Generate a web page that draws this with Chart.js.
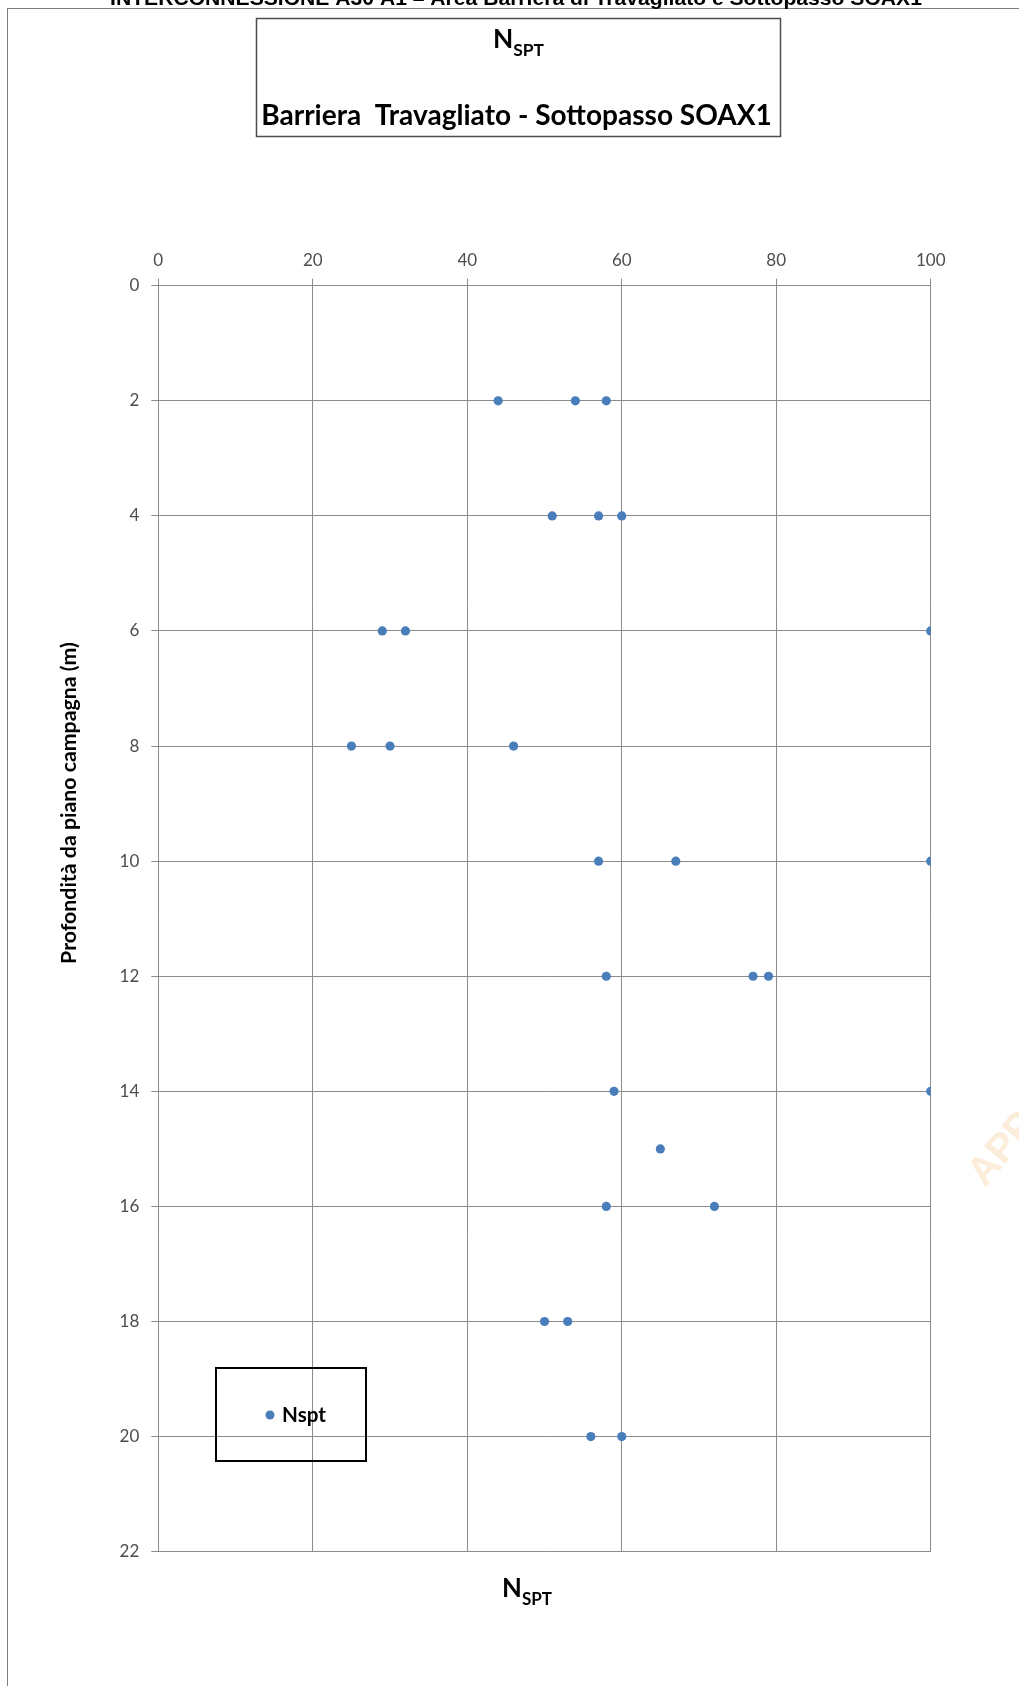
<!DOCTYPE html>
<html>
<head>
<meta charset="utf-8">
<script src="https://cdn.jsdelivr.net/npm/chart.js@4.4.0/dist/chart.umd.min.js"></script>
<style>
html,body{margin:0;padding:0;background:#ffffff;}
#wrap{width:1019px;height:1686px;position:relative;background:#ffffff;}
canvas{display:block;}
</style>
</head>
<body>
<div id="wrap"><canvas id="chart" width="1019" height="1686"></canvas></div>
<script>
// ---- data ----
const depths      = [2, 2, 2, 4, 4, 4, 6, 6, 6, 8, 8, 8, 10, 10, 10, 12, 12, 12, 14, 14, 15, 16, 16, 18, 18, 20, 20];
const nsptValues  = [44, 54, 58, 51, 57, 60, 29, 32, 100, 25, 30, 46, 57, 67, 100, 58, 77, 79, 59, 100, 65, 58, 72, 50, 53, 56, 60];
const xTickValues = [0, 20, 40, 60, 80, 100];
const yTickValues = [0, 2, 4, 6, 8, 10, 12, 14, 16, 18, 20, 22];
const seriesLabel = 'Nspt';
const headerText  = 'INTERCONNESSIONE A30 A1 – Area Barriera di Travagliato e Sottopasso SOAX1';
const titleMain   = 'N';
const titleSub    = 'SPT';
const titleLine2  = 'Barriera  Travagliato - Sottopasso SOAX1';
const xAxisMain   = 'N';
const xAxisSub    = 'SPT';
const yAxisTitle  = 'Profondità da piano campagna (m)';
const watermark   = 'APP';

const points = depths.map((d, i) => ({ x: nsptValues[i], y: d }));

const FONT = 'Lato, "Open Sans", sans-serif';
const GRID = '#8c8c8c';
const BLUE = '#4a7ebb';

function fitSize(ctx, text, weight, family, width) {
  ctx.font = weight + ' 100px ' + family;
  return 100 * width / ctx.measureText(text).width;
}

function drawSub(ctx, main, sub, left, right, baseline, subDrop, weight) {
  const ratio = 0.66;
  ctx.font = weight + ' 100px ' + FONT;
  const wm = ctx.measureText(main).width;
  ctx.font = weight + ' ' + (100 * ratio) + 'px ' + FONT;
  const ws = ctx.measureText(sub).width;
  const size = 100 * (right - left) / (wm + ws);
  ctx.textAlign = 'left';
  ctx.textBaseline = 'alphabetic';
  ctx.font = weight + ' ' + size + 'px ' + FONT;
  ctx.fillText(main, left, baseline);
  const mw = ctx.measureText(main).width;
  ctx.font = weight + ' ' + (size * ratio) + 'px ' + FONT;
  ctx.fillText(sub, left + mw, baseline + subDrop);
}

const decor = {
  id: 'decor',
  beforeDraw(chart) {
    const ctx = chart.ctx;
    ctx.save();
    ctx.fillStyle = '#ffffff';
    ctx.fillRect(0, 0, chart.width, chart.height);
    ctx.restore();
  },
  afterDraw(chart) {
    const ctx = chart.ctx;
    ctx.save();
    // outer frame (only left and top edges inside the picture)
    ctx.strokeStyle = '#7f7f7f';
    ctx.lineWidth = 1;
    ctx.strokeRect(7.5, 8.5, 1200, 1800);

    // cut-off page header
    ctx.fillStyle = '#000000';
    let s = fitSize(ctx, headerText, 'bold', '"Liberation Sans", Arial, sans-serif', 812);
    ctx.font = 'bold ' + s + 'px "Liberation Sans", Arial, sans-serif';
    ctx.textAlign = 'center';
    ctx.textBaseline = 'alphabetic';
    ctx.fillText(headerText, 516, 5);

    // title box
    ctx.strokeStyle = '#4d4d4d';
    ctx.lineWidth = 1.5;
    ctx.strokeRect(256.5, 18.5, 524, 118);
    ctx.fillStyle = '#000000';
    drawSub(ctx, titleMain, titleSub, 493, 544, 48, 8, 'bold');
    s = fitSize(ctx, titleLine2, 'bold', FONT, 511);
    ctx.font = 'bold ' + s + 'px ' + FONT;
    ctx.textAlign = 'center';
    ctx.textBaseline = 'alphabetic';
    ctx.fillText(titleLine2, 516.5, 125);

    // x-axis title at the bottom
    drawSub(ctx, xAxisMain, xAxisSub, 502, 552, 1597, 8, 'bold');

    // y-axis title (rotated)
    s = fitSize(ctx, yAxisTitle, 'bold', FONT, 322);
    ctx.save();
    ctx.translate(76, 803);
    ctx.rotate(-Math.PI / 2);
    ctx.font = 'bold ' + s + 'px ' + FONT;
    ctx.textAlign = 'center';
    ctx.textBaseline = 'alphabetic';
    ctx.fillStyle = '#000000';
    ctx.fillText(yAxisTitle, 0, 0);
    ctx.restore();

    // legend box (no fill, grid shows through)
    const label = chart.data.datasets[0].label;
    ctx.strokeStyle = '#000000';
    ctx.lineWidth = 2;
    ctx.strokeRect(216, 1368, 150, 93);
    ctx.fillStyle = BLUE;
    ctx.beginPath();
    ctx.arc(270, 1415, 4.5, 0, Math.PI * 2);
    ctx.fill();
    s = fitSize(ctx, label, 'bold', FONT, 44);
    ctx.font = 'bold ' + s + 'px ' + FONT;
    ctx.fillStyle = '#000000';
    ctx.textAlign = 'left';
    ctx.textBaseline = 'alphabetic';
    ctx.fillText(label, 282, 1422);

    // faint watermark cut by the right edge
    ctx.save();
    ctx.translate(985, 1188);
    ctx.rotate(-50 * Math.PI / 180);
    ctx.font = 'bold 40px "Liberation Sans", Arial, sans-serif';
    ctx.fillStyle = 'rgba(245, 210, 160, 0.4)';
    ctx.textAlign = 'left';
    ctx.textBaseline = 'alphabetic';
    ctx.fillText(watermark, 0, 0);
    ctx.restore();

    ctx.restore();
  }
};

new Chart(document.getElementById('chart'), {
  type: 'scatter',
  data: {
    datasets: [{
      label: seriesLabel,
      data: points,
      backgroundColor: BLUE,
      borderColor: BLUE,
      borderWidth: 0,
      pointRadius: 4.6,
      pointHoverRadius: 4.6
    }]
  },
  options: {
    responsive: false,
    devicePixelRatio: 1,
    animation: false,
    layout: { padding: { left: 0, top: 0, right: 88.3, bottom: 134.3 } },
    plugins: {
      legend: { display: false },
      title: { display: false },
      tooltip: { enabled: false }
    },
    scales: {
      x: {
        type: 'linear',
        position: 'top',
        min: 0, max: 100,
        afterBuildTicks: sc => { sc.ticks = xTickValues.map(v => ({ value: v })); },
        afterFit: sc => { sc.height = 285.7; },
        grid: { color: GRID, lineWidth: 1, tickLength: 7, drawTicks: true },
        border: { color: GRID, width: 1 },
        ticks: { font: { family: FONT, size: 17 }, color: '#4d4d4d', padding: 8, maxRotation: 0 }
      },
      y: {
        type: 'linear',
        reverse: true,
        min: 0, max: 22,
        afterBuildTicks: sc => { sc.ticks = yTickValues.map(v => ({ value: v })); },
        afterFit: sc => { sc.width = 158.3; },
        grid: { color: GRID, lineWidth: 1, tickLength: 7, drawTicks: true },
        border: { color: GRID, width: 1 },
        ticks: { font: { family: FONT, size: 17 }, color: '#4d4d4d', padding: 12 }
      }
    }
  },
  plugins: [decor]
});
</script>
</body>
</html>
